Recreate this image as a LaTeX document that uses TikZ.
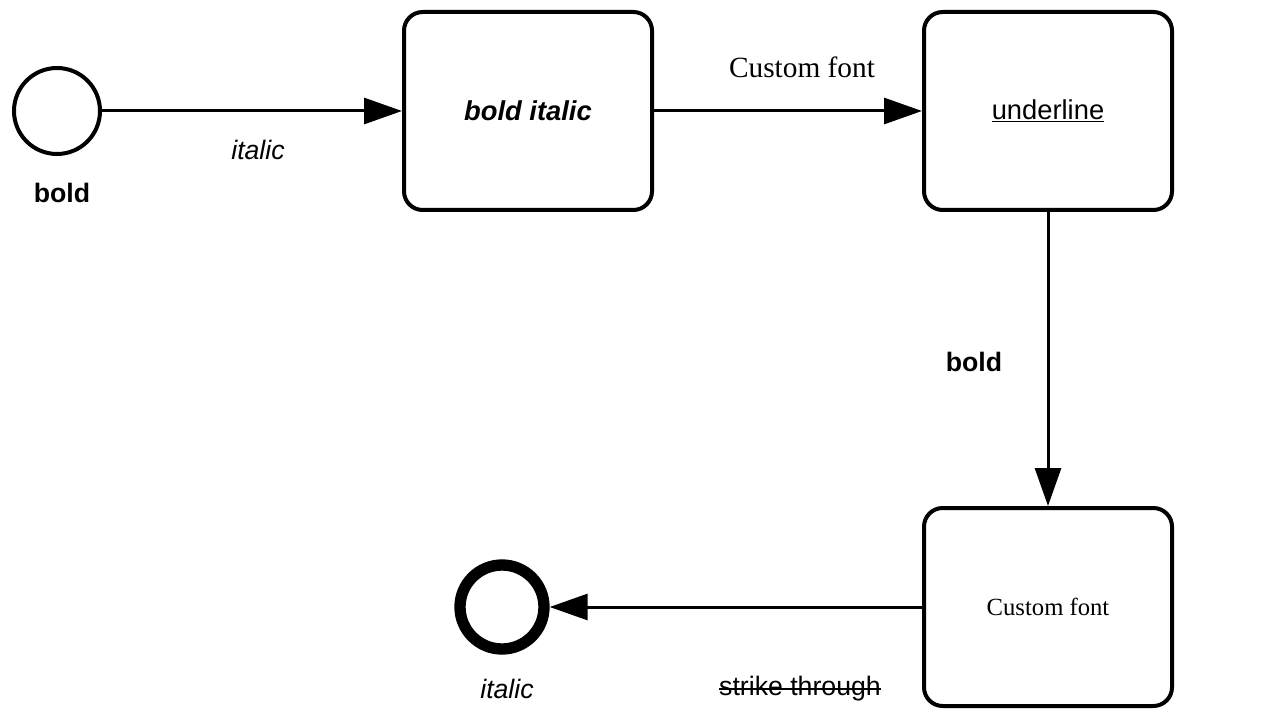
\documentclass[tikz,border=0pt]{standalone}
\usepackage{fontspec}
\setmainfont{Liberation Sans}
\newfontfamily\customfont{Liberation Serif}
\usetikzlibrary{arrows.meta}
\newcommand\strikeout[1]{\setbox0\hbox{#1}\rlap{\rule[0.22em]{\wd0}{0.07em}}\box0}
\tikzset{
  task/.style={draw, line width=3pt, rounded corners=14pt, minimum width=186pt, minimum height=148.5pt, font=\fontsize{20.5}{24}\selectfont},
  startev/.style={draw, circle, line width=3pt, minimum size=64.5pt, inner sep=0pt},
  endev/.style={draw, circle, line width=8.5pt, minimum size=63pt, inner sep=0pt},
  flow/.style={line width=2.25pt, -{Triangle[length=28.5pt, width=19.5pt]}},
  lbl/.style={font=\fontsize{20}{24}\selectfont}
}

\begin{document}
\begin{tikzpicture}[x=0.75pt,y=-0.75pt]
    \useasboundingbox (0,0) rectangle (1280,720);

    \coordinate (S) at (57, 111);
    \coordinate (T1) at (528, 111);
    \coordinate (T2) at (1048, 111);
    \coordinate (T3) at (1048, 607);
    \coordinate (E) at (502, 607);

    \node [startev] (start) at (S) {};
    \node [task] (bolditalic) at (T1) {\textbf{\textit{bold italic}}};
    \node [task] (underline) at (T2) {\underline{underline}};
    \node [task, font=\fontsize{18.5}{22}\customfont] (custom) at (T3) {Custom font};
    \node [endev] (end) at (E) {};

    \draw[flow] (start) -- (bolditalic);
    \draw[flow] (bolditalic) -- (underline);
    \draw[flow] (underline) -- (custom);
    \draw[flow] (custom) -- (end);

%labels
    \node [lbl] (startlbl) at (62, 193) {\textbf{bold}};
    \node [lbl] (endlbl) at (507, 689) {\textit{italic}};
    \node [lbl] (flowa) at (258, 150) {\textit{italic}};
    \node [lbl, font=\fontsize{22}{26}\customfont] (flowb) at (802, 67) {Custom font};
    \node [lbl] (flowc) at (974, 362) {\textbf{bold}};
    \node [lbl] (flowd) at (800, 689) {\strikeout{strike through}};
\end{tikzpicture}
\end{document}
